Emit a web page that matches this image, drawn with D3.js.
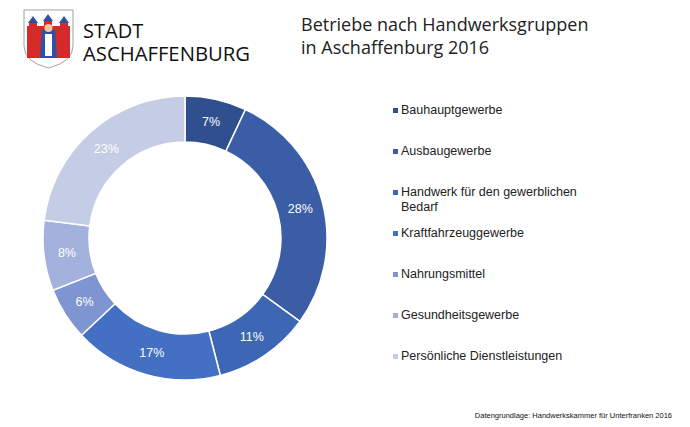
<!DOCTYPE html>
<html><head><meta charset="utf-8">
<script src="https://cdn.jsdelivr.net/npm/d3@7"></script>
<style>body{margin:0;background:#fff}svg{font-family:"Liberation Sans",Arial,sans-serif}</style>
</head><body><div id="chart"></div>
<script>
const categories = ['Bauhauptgewerbe','Ausbaugewerbe','Handwerk für den gewerblichen Bedarf','Kraftfahrzeuggewerbe','Nahrungsmittel','Gesundheitsgewerbe','Persönliche Dienstleistungen'];
const values = [7, 28, 11, 17, 6, 8, 23];
const colors = ['#2f4f8f','#3a5da6','#3d66b5','#4470c4','#7d95d0','#a2b2dc','#c4cce6'];

const svg = d3.select('#chart').append('svg').attr('width', 690).attr('height', 427);

// logo
const logo = svg.append('g').attr('transform', 'translate(24,6)');
logo.append('path').attr('d', 'M0,4 L49,4 L49,40 Q49,56 24.5,62 Q0,56 0,40 Z').attr('fill', '#fff').attr('stroke', '#888').attr('stroke-width', 0.8);
logo.append('rect').attr('x', 3).attr('y', 20).attr('width', 43).attr('height', 32).attr('fill', '#d42a2a');
[[5,10],[20,8],[36,10]].forEach(([x, y]) => {
    logo.append('rect').attr('x', x).attr('y', y + 6).attr('width', 8).attr('height', 10).attr('fill', '#d42a2a');
    logo.append('path').attr('d', `M${x - 1},${y + 7} L${x + 4},${y} L${x + 9},${y + 7} Z`).attr('fill', '#2b52a8');
});
logo.append('path').attr('d', 'M18,24 L31,24 L33,52 L16,52 Z').attr('fill', '#2b52a8');
logo.append('circle').attr('cx', 24.5).attr('cy', 22).attr('r', 4).attr('fill', '#f0c8a0');
logo.append('rect').attr('x', 21).attr('y', 28).attr('width', 7).attr('height', 22).attr('fill', '#fff');
svg.append('text').attr('x', 83).attr('y', 38).attr('font-size', 20).attr('font-family', 'Open Sans, sans-serif').attr('fill', '#111').text('STADT');
svg.append('text').attr('x', 83).attr('y', 61).attr('font-size', 20).attr('font-family', 'Open Sans, sans-serif').attr('fill', '#111')
    .attr('textLength', 167).attr('lengthAdjust', 'spacingAndGlyphs').text('ASCHAFFENBURG');

// title
svg.append('text').attr('x', 301).attr('y', 31).attr('font-size', 18).attr('font-family', 'Open Sans, sans-serif').attr('fill', '#222').text('Betriebe nach Handwerksgruppen');
svg.append('text').attr('x', 301).attr('y', 54).attr('font-size', 18).attr('font-family', 'Open Sans, sans-serif').attr('fill', '#222').text('in Aschaffenburg 2016');

// donut
const pie = d3.pie().sort(null).value(d => d)(values);
const arc = d3.arc().innerRadius(96).outerRadius(142);
const g = svg.append('g').attr('transform', 'translate(185,238)');
g.selectAll('path').data(pie).enter().append('path')
    .attr('d', arc).attr('fill', (d, i) => colors[i]).attr('stroke', '#fff').attr('stroke-width', 1.5);
const labelArc = d3.arc().innerRadius(119).outerRadius(119);
g.selectAll('text').data(pie).enter().append('text')
    .attr('transform', d => `translate(${labelArc.centroid(d)})`)
    .attr('text-anchor', 'middle').attr('dy', '0.35em')
    .attr('font-size', 12.5).attr('fill', '#fff').text(d => d.data + '%');

// legend
const legendY = [114, 155, 196, 237, 278, 319, 360];
const lg = svg.append('g');
categories.forEach((c, i) => {
    lg.append('rect').attr('x', 393).attr('y', legendY[i] - 6).attr('width', 5).attr('height', 5).attr('fill', colors[i]);
    const t = lg.append('text').attr('x', 401).attr('y', legendY[i]).attr('font-size', 12.5).attr('fill', '#222');
    if (i === 2) {
        t.append('tspan').attr('x', 401).text('Handwerk für den gewerblichen');
        t.append('tspan').attr('x', 401).attr('dy', 15).text('Bedarf');
    } else t.text(c);
});

svg.append('text').attr('x', 672).attr('y', 418).attr('text-anchor', 'end').attr('font-size', 7.5).attr('fill', '#111')
    .text('Datengrundlage: Handwerkskammer für Unterfranken 2016');
</script></body></html>
